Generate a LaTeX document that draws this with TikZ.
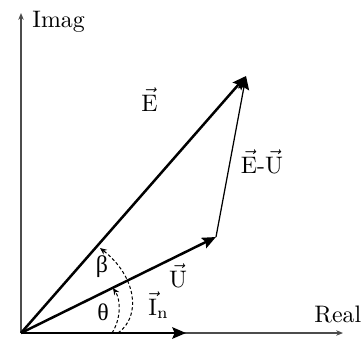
\documentclass[tikz,border=0pt]{standalone}
\usepackage{fontspec}
\newfontfamily\grk{Liberation Serif}
\usetikzlibrary{arrows.meta}
\begin{document}
\begin{tikzpicture}[x=0.44pt,y=0.44pt,
  axis/.style={draw=black!70,line width=0.45pt,-{Stealth[length=3pt,width=2.4pt]}},
  vec/.style={draw=black,line width=1.1pt,-{Stealth[length=6pt,width=5pt,inset=1pt]}},
  diff/.style={draw=black,line width=0.55pt,-{Stealth[length=6pt,width=5pt,inset=1pt]}},
  ang/.style={draw=black,line width=0.45pt,dash pattern=on 1.4pt off 1pt,-{Stealth[length=3pt,width=2.6pt]}},
  lab/.style={inner sep=0pt,anchor=base,font=\fontsize{10.5}{12}\selectfont}]
\useasboundingbox (0,0) rectangle (362,338);
\coordinate (O) at (21,5);
\coordinate (Ytop) at (21,325);
\coordinate (Xend) at (343,5);
\coordinate (E) at (246,262);
\coordinate (U) at (216,101);
\coordinate (I) at (186,5);
\draw[axis] (O) -- (Ytop);
\draw[axis] (O) -- (Xend);
\draw[vec] (O) -- (E);
\draw[vec] (O) -- (U);
\draw[vec] (O) -- (I);
\draw[diff] (U) -- (E);
\coordinate (a1) at (112,5);
\coordinate (a2) at (113,50);
\coordinate (b1) at (118,5);
\coordinate (b2) at (100,90);
\draw[ang] (a1) .. controls (121,19) and (121,38) .. (a2);
\draw[ang] (b1) .. controls (142,22) and (136,62) .. (b2);
\node[lab,anchor=base west] (imag) at (32,311) {Imag};
\node[lab,anchor=base west] (real) at (314,16) {Real};
\node[lab] (lE) at (149.5,227) {$\vec{\mathrm{E}}$};
\node[lab] (lEU) at (262,165) {$\vec{\mathrm{E}}$-$\vec{\mathrm{U}}$};
\node[lab] (lU) at (178,51) {$\vec{\mathrm{U}}$};
\node[lab,anchor=base west] (lI) at (148,23) {$\vec{\mathrm{I}}_{\mathrm{n}}$};
\node[lab] (lb) at (102,66) {\grk β};
\node[lab] (lt) at (103,18) {\grk θ};
\end{tikzpicture}
\end{document}
